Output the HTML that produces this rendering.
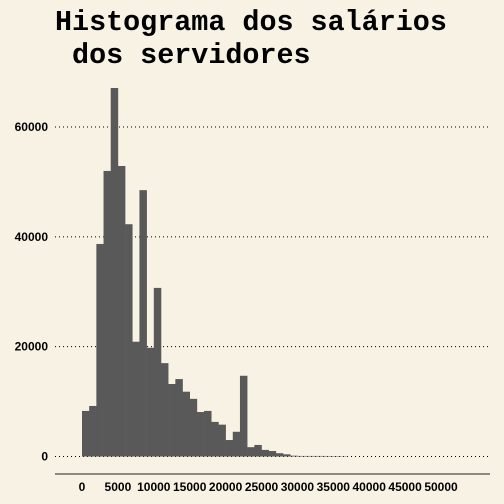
<!DOCTYPE html>
<html><head><meta charset="utf-8"><style>
html,body{margin:0;padding:0;background:#f8f2e4;}
svg{display:block;}
</style></head><body>
<svg width="504" height="504" xmlns="http://www.w3.org/2000/svg">
<rect width="504" height="504" fill="#f8f2e4"/>
<text x="55" y="30" font-family="Liberation Mono, monospace" font-weight="bold" font-size="28.4" fill="#000" xml:space="preserve">Histograma dos salários<tspan x="55" y="63"> dos servidores</tspan></text>
<g id="grid"></g>
<g id="bars"></g>
<line x1="55" x2="490" y1="474" y2="474" stroke="#222" stroke-width="1"/>
<g id="labels" font-family="Liberation Sans, sans-serif" font-weight="bold" font-size="12" fill="#000"></g>
</svg>
<script>
const binStarts = [0,1000,2000,3000,4000,5000,6000,7000,8000,9000,10000,11000,12000,13000,14000,15000,16000,17000,18000,19000,20000,21000,22000,23000,24000,25000,26000,27000,28000,29000,30000,31000,32000,33000,34000,35000,36000];
const counts = [8300,9200,38700,52000,67100,52900,42300,20900,48500,19800,30700,17000,13200,14100,11800,10500,8100,8300,6300,5800,3000,4500,14700,1700,2100,1200,1000,600,400,150,100,100,100,100,80,80,60];
const yTicks = [0,20000,40000,60000];
const xTicks = [0,5000,10000,15000,20000,25000,30000,35000,40000,45000,50000];
const binWidth = 1000;
const NS="http://www.w3.org/2000/svg";
const xs = v => 82 + v*(441-82)/50000;
const ys = v => 456.5 - v*(456.5-127)/60000;
const grid=document.getElementById('grid'), bars=document.getElementById('bars'), labels=document.getElementById('labels');
yTicks.forEach(t=>{
  const l=document.createElementNS(NS,'line');
  l.setAttribute('x1',55);l.setAttribute('x2',488);l.setAttribute('y1',ys(t));l.setAttribute('y2',ys(t));
  l.setAttribute('stroke','#000');l.setAttribute('stroke-dasharray','1,3');l.setAttribute('stroke-width','1');
  
  
  grid.appendChild(l);
  const tx=document.createElementNS(NS,'text');
  tx.setAttribute('x',48);tx.setAttribute('y',ys(t)+4);tx.setAttribute('text-anchor','end');tx.textContent=t;
  
  
  labels.appendChild(tx);
});
binStarts.forEach((b,i)=>{
  const r=document.createElementNS(NS,'rect');
  const x0=xs(b), x1=xs(b+binWidth);
  r.setAttribute('x',x0);r.setAttribute('width',x1-x0+0.3);
  r.setAttribute('y',ys(counts[i]));r.setAttribute('height',ys(0)-ys(counts[i]));
  r.setAttribute('fill','#595959');
  
  
  bars.appendChild(r);
});
xTicks.forEach(t=>{
  const tx=document.createElementNS(NS,'text');
  tx.setAttribute('x',xs(t));tx.setAttribute('y',491);tx.setAttribute('text-anchor','middle');tx.textContent=t;
  
  
  labels.appendChild(tx);
});
</script>
</body></html>
